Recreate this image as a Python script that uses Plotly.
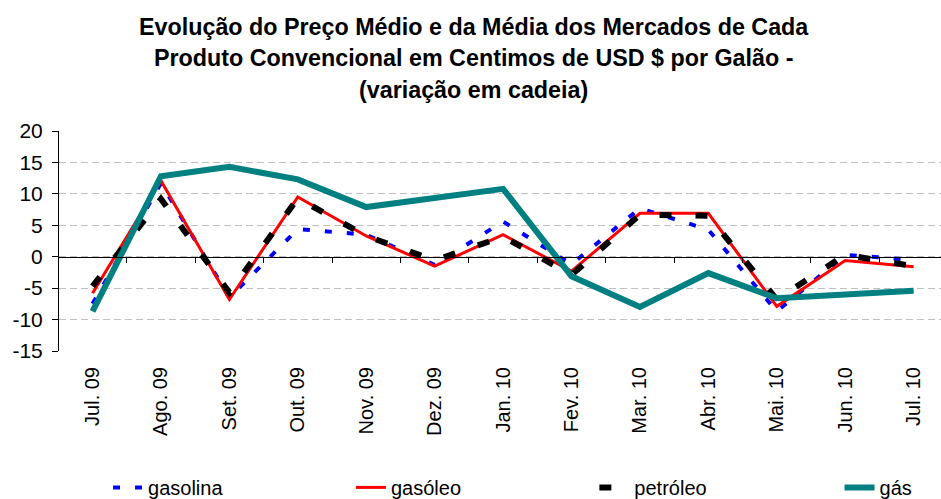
import plotly.graph_objects as go

categorias = ["Jul. 09", "Ago. 09", "Set. 09", "Out. 09", "Nov. 09", "Dez. 09", "Jan. 10",
              "Fev. 10", "Mar. 10", "Abr. 10", "Mai. 10", "Jun. 10", "Jul. 10"]
gasolina = [-7.5, 11.7, -6.5, 4.4, 3.5, -1.3, 5.6, -1.2, 7.7, 4.3, -8.7, 0.3, -0.5]
gasoleo = [-5.8, 12.1, -6.8, 9.5, 3.3, -1.5, 3.5, -2.3, 6.9, 6.9, -7.9, -0.6, -1.6]
petroleo = [-4.7, 9.2, -5.7, 9.3, 3.3, -0.6, 3.2, -2.9, 6.7, 6.5, -6.8, 0.3, -1.5]
gas = [-8.7, 12.8, 14.3, 12.3, 7.9, 9.3, 10.8, -3.1, -8.0, -2.6, -6.6, -6.0, -5.4]

titulo = ["Evolução do Preço Médio e da Média dos Mercados de Cada",
          "Produto Convencional em Centimos de USD $ por Galão -",
          "(variação em cadeia)"]
y_ticks = [20, 15, 10, 5, 0, -5, -10, -15]
y_tick_text = ["20", "15", "10", "5", "0", "-5", "-10", "-15"]

FONT = "Liberation Sans, Arial, sans-serif"

fig = go.Figure()
series = [
    ("gasolina", gasolina, dict(color="#0000FF", width=4, dash="7px,15px"), "legend"),
    ("gasóleo", gasoleo, dict(color="#FF0000", width=3), "legend2"),
    ("petróleo", petroleo, dict(color="#000000", width=6, dash="12px,24px"), "legend3"),
    ("gás", gas, dict(color="#008080", width=6), "legend4"),
]
for name, vals, line, leg in series:
    fig.add_trace(go.Scatter(x=categorias, y=vals, name=name, mode="lines",
                             line=line, legend=leg, showlegend=True))

# invisible trace to anchor the zero-line category axis
fig.add_trace(go.Scatter(x=categorias, y=[0] * len(categorias), xaxis="x2",
                         mode="lines", line=dict(width=0), showlegend=False,
                         hoverinfo="skip"))

xr = [-0.49, 12.4]
fig.update_layout(
    width=941, height=499,
    margin=dict(l=59, r=0, t=131, b=148, autoexpand=False),
    paper_bgcolor="white", plot_bgcolor="white",
    font=dict(family=FONT, size=20, color="black"),
    showlegend=True,
    xaxis=dict(type="category", categoryarray=categorias, range=xr, automargin=False,
               showline=False, ticks="", tickangle=-90, showgrid=False,
               zeroline=False, tickfont=dict(size=20), ticklabelstandoff=11),
    xaxis2=dict(type="category", categoryarray=categorias, range=xr,
                overlaying="x", anchor="free", position=15 / 35, side="bottom",
                showline=True, linecolor="black", linewidth=1, automargin=False,
                ticks="outside", ticklen=5, tickcolor="black", tickson="boundaries",
                showticklabels=False, showgrid=False, zeroline=False),
    yaxis=dict(range=[-15, 20], tickvals=y_ticks, ticktext=y_tick_text, showline=True,
               linecolor="black", automargin=False,
               linewidth=1, ticks="outside", ticklen=6, tickcolor="black",
               showgrid=True, gridcolor="#C0C0C0", griddash="7px,4px", gridwidth=1,
               zeroline=False, tickfont=dict(size=21), ticklabelstandoff=5),
)

leg_x = [0.0556, 0.331, 0.607, 0.885]
leg_names = ["legend", "legend2", "legend3", "legend4"]
for ln, lx in zip(leg_names, leg_x):
    fig.update_layout({ln: dict(x=lx, y=-0.62, xanchor="left", yanchor="middle",
                                orientation="h", bgcolor="rgba(0,0,0,0)",
                                font=dict(size=20, family=FONT))})

title_y = [1.473, 1.332, 1.186]
for txt, ty in zip(titulo, title_y):
    fig.add_annotation(text="<b>" + txt + "</b>", x=0.47, xref="paper", xanchor="center",
                       y=ty, yref="paper", yanchor="middle", showarrow=False,
                       font=dict(size=23.3, family=FONT, color="black"))

fig.write_html("out.html", config={"displayModeBar": False},
               post_script="document.body.style.margin='0';document.body.style.padding='0';")
